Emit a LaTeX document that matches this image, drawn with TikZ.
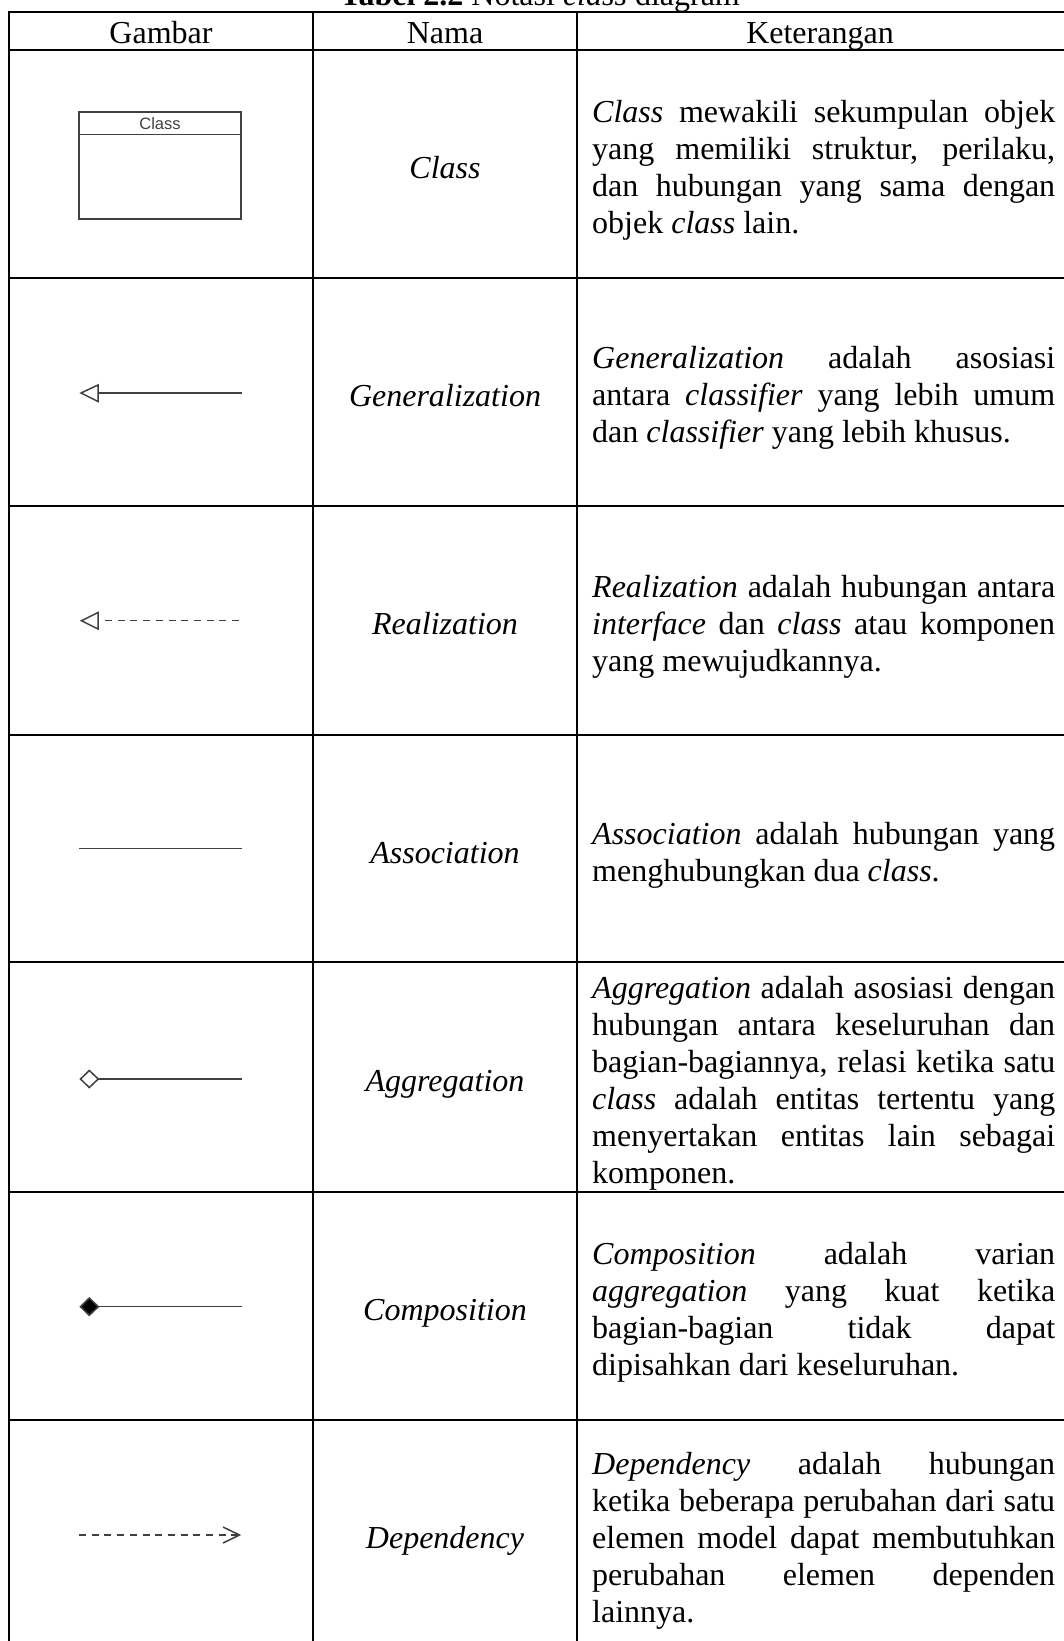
\documentclass[tikz,border=0pt]{standalone}
\usepackage{fontspec}
\setmainfont{Liberation Serif}
\newfontfamily\arialfont{Liberation Sans}
\definecolor{umlgray}{HTML}{404040}
\newcommand\jline[1]{\makebox[463pt][s]{#1}}
\begin{document}
\begin{tikzpicture}[x=1pt,y=-1pt,
  gridh/.style={line width=2pt,black},
  gridv/.style={line width=1.2pt,black},
  uml/.style={line width=1.5pt,draw=umlgray},
  umldash/.style={uml,dash pattern=on 7pt off 5.7pt},
  txt/.style={font=\fontsize{32}{37}\selectfont,inner sep=0pt},
  desc/.style={txt,align=left,anchor=west},
  namecell/.style={font=\fontsize{32}{37}\selectfont\itshape,inner sep=0pt,anchor=base},
  headcell/.style={txt,anchor=base}]
\useasboundingbox (0,0) rectangle (1064,1641);
\fill[white] (0,0) rectangle (1064,1641);
% caption
\node[headcell] (cap) at (540,5) {\textbf{Tabel 2.2} Notasi \textit{class} diagram};
% grid
\foreach \yy in {12.3,50,278,506,735,962,1192,1420}
  \draw[gridh] (9,\yy) -- (1072,\yy);
\foreach \xx in {9,313,577}
  \draw[gridv] (\xx,11.3) -- (\xx,1660);
% header
\node[headcell] (h1) at (161,43) {Gambar};
\node[headcell] (h2) at (445,43) {Nama};
\node[headcell] (h3) at (820,43) {Keterangan};
% names
\node[namecell] (n1) at (445,178) {Class};
\node[namecell] (n2) at (445,406) {Generalization};
\node[namecell] (n3) at (445,634.5) {Realization};
\node[namecell] (n4) at (445,863) {Association};
\node[namecell] (n5) at (445,1091) {Aggregation};
\node[namecell] (n6) at (445,1320) {Composition};
\node[namecell] (n7) at (445,1548.5) {Dependency};
% descriptions
\node[desc] (d1) at (592,170) {\jline{\textit{Class} mewakili sekumpulan objek}\\
\jline{yang memiliki struktur, perilaku,}\\
\jline{dan hubungan yang sama dengan}\\
objek \textit{class} lain.};
\node[desc] (d2) at (592,398) {\jline{\textit{Generalization} adalah asosiasi}\\
\jline{antara \textit{classifier} yang lebih umum}\\
dan \textit{classifier} yang lebih khusus.};
\node[desc] (d3) at (592,626.5) {\jline{\textit{Realization} adalah hubungan antara}\\
\jline{\textit{interface} dan \textit{class} atau komponen}\\
yang mewujudkannya.};
\node[desc] (d4) at (592,855) {\jline{\textit{Association} adalah hubungan yang}\\
menghubungkan dua \textit{class}.};
\node[desc] (d5) at (592,1083) {\jline{\textit{Aggregation} adalah asosiasi dengan}\\
\jline{hubungan antara keseluruhan dan}\\
\jline{bagian-bagiannya, relasi ketika satu}\\
\jline{\textit{class} adalah entitas tertentu yang}\\
\jline{menyertakan entitas lain sebagai}\\
komponen.};
\node[desc] (d6) at (592,1312) {\jline{\textit{Composition} adalah varian}\\
\jline{\textit{aggregation} yang kuat ketika}\\
\jline{bagian-bagian tidak dapat}\\
dipisahkan dari keseluruhan.};
\node[desc] (d7) at (592,1541) {\jline{\textit{Dependency} adalah hubungan}\\
\jline{ketika beberapa perubahan dari satu}\\
\jline{elemen model dapat membutuhkan}\\
\jline{perubahan elemen dependen}\\
lainnya.};
% class symbol
\draw[uml] (79,112) rectangle (241,219);
\draw[uml] (79,134.7) -- (241,134.7);
\node[font=\arialfont\fontsize{16.5}{17}\selectfont,text=umlgray,inner sep=0pt] (cls) at (160,123.5) {Class};
% generalization
\coordinate (g0) at (241.5,393);
\coordinate (g1) at (98,393);
\draw[uml] (g0) -- (g1);
\draw[uml,line join=miter] (98,385) -- (81,393) -- (98,401.5) -- cycle;
% realization
\coordinate (r0) at (239,620.7);
\coordinate (r1) at (98,620.7);
\draw[umldash] (r0) -- (r1);
\draw[uml,line join=miter] (98,612.5) -- (81.5,620.7) -- (98,629) -- cycle;
% association
\draw[uml] (79,848.5) -- (241.5,848.5);
% aggregation
\draw[uml] (98.3,1079) -- (241.5,1079);
\draw[uml,line join=miter] (80.5,1079) -- (89.3,1070.5) -- (98.3,1079) -- (89.3,1087.5) -- cycle;
% composition
\draw[uml] (98.3,1306.7) -- (241.5,1306.7);
\draw[uml,fill=black,line join=miter] (80.5,1306.7) -- (89.3,1298) -- (98.3,1306.7) -- (89.3,1315.3) -- cycle;
% dependency
\draw[umldash] (79,1535) -- (238,1535);
\draw[uml,line join=miter] (223,1527) -- (239.5,1535) -- (223,1543);
\end{tikzpicture}
\end{document}
